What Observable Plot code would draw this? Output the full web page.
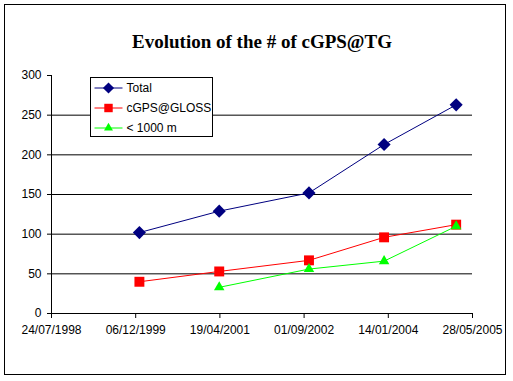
<!DOCTYPE html>
<html>
<head>
<meta charset="utf-8">
<script src="https://cdn.jsdelivr.net/npm/d3@7"></script>
<script src="https://cdn.jsdelivr.net/npm/@observablehq/plot@0.6"></script>
<style>
  body { margin: 0; background: #fff; }
  #chart { position: relative; width: 513px; height: 381px; }
  svg { display: block; }
</style>
</head>
<body>
<div id="chart"></div>
<script>
// ---- data ----
const title = "Evolution of the # of cGPS@TG";
const dates = ["1999-12-28", "2001-04-15", "2002-09-30", "2003-12-20", "2005-02-20"];
const seriesNames = ["Total", "cGPS@GLOSS", "< 1000 m"];
const totalValues = [102, 129, 152, 213, 263];
const glossValues = [40, 53, 67, 96, 112];
const near1000Values = [null, 33, 56, 66, 110];
const xTickLabels = ["24/07/1998", "06/12/1999", "19/04/2001", "01/09/2002", "14/01/2004", "28/05/2005"];
const yTicks = [0, 50, 100, 150, 200, 250, 300];
const gridValues = [50, 100, 150, 200, 250];

const parseDMY = d3.utcParse("%d/%m/%Y");
const xTicks = xTickLabels.map(parseDMY);
const fmt = d3.utcFormat("%d/%m/%Y");

const colors = {"Total": "#000080", "cGPS@GLOSS": "#FF0000", "< 1000 m": "#00FF00"};
const symbols = {"Total": "diamond2", "cGPS@GLOSS": "square", "< 1000 m": "triangle"};
const radii = {"Total": 5.9, "cGPS@GLOSS": 5.6, "< 1000 m": 3.9};

const valuesBySeries = [totalValues, glossValues, near1000Values];
const rows = [];
seriesNames.forEach((s, i) => {
  dates.forEach((d, j) => {
    const v = valuesBySeries[i][j];
    if (v != null) rows.push({series: s, date: d3.utcParse("%Y-%m-%d")(d), value: v});
  });
});

const font = "Liberation Sans, Arial, sans-serif";

const plot = Plot.plot({
  width: 513,
  height: 381,
  marginLeft: 51,
  marginRight: 41,
  marginTop: 75,
  marginBottom: 68,
  style: {fontFamily: font, fontSize: "12px", color: "#000", background: "#fff"},
  x: {type: "utc", domain: [xTicks[0], xTicks[xTicks.length - 1]]},
  y: {domain: [0, 300]},
  marks: [
    Plot.ruleY(gridValues, {stroke: "#000", strokeWidth: 1}),
    Plot.axisY({ticks: yTicks, tickSize: 4, tickPadding: 6, label: null, stroke: "#000", fontSize: 12}),
    Plot.axisX({ticks: xTicks, tickFormat: fmt, tickSize: 5, tickPadding: 7, label: null, stroke: "#000", fontSize: 12}),
    Plot.ruleX([xTicks[0]], {stroke: "#000", strokeWidth: 1}),
    Plot.ruleY([0], {stroke: "#000", strokeWidth: 1}),
    ...seriesNames.map(s => Plot.line(rows.filter(r => r.series === s), {x: "date", y: "value", stroke: colors[s], strokeWidth: 1})),
    ...seriesNames.map(s => Plot.dot(rows.filter(r => r.series === s), {x: "date", y: "value", symbol: symbols[s], r: radii[s], fill: colors[s], stroke: "none"})),
    Plot.text([title], {frameAnchor: "top", dy: -41, fontFamily: "Liberation Serif, Times New Roman, serif", fontWeight: "bold", fontSize: 19, fill: "#000"})
  ]
});

const svg = d3.select(plot);
// outer chart border
svg.append("rect").attr("x", 4.5).attr("y", 4.5).attr("width", 501).attr("height", 370)
  .attr("fill", "none").attr("stroke", "#000").attr("stroke-width", 1);

// legend
const lg = svg.append("g").attr("transform", "translate(90.5,77.5)");
lg.append("rect").attr("width", 122).attr("height", 59).attr("fill", "#fff").attr("stroke", "#000").attr("stroke-width", 1);
seriesNames.forEach((s, i) => {
  const cy = 10.5 + i * 20;
  lg.append("line").attr("x1", 4).attr("x2", 32).attr("y1", cy).attr("y2", cy).attr("stroke", colors[s]).attr("stroke-width", 1);
  const sym = {diamond2: d3.symbolDiamond2, square: d3.symbolSquare, triangle: d3.symbolTriangle}[symbols[s]];
  const r = radii[s] * 0.85;
  lg.append("path").attr("transform", `translate(18,${cy})`).attr("d", d3.symbol(sym, Math.PI * r * r)()).attr("fill", colors[s]);
  lg.append("text").attr("x", 36).attr("y", cy).attr("dy", "0.35em").attr("text-anchor", "start")
    .attr("font-family", font).attr("font-size", 12).attr("fill", "#000").text(s);
});

document.getElementById("chart").appendChild(plot);
</script>
</body>
</html>
